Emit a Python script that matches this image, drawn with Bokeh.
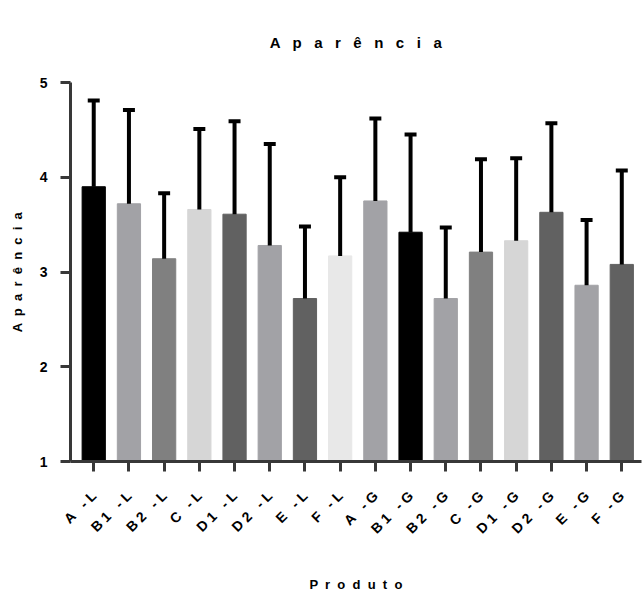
import math
from bokeh.plotting import figure
from bokeh.models import FixedTicker, Range1d, ColumnDataSource
from bokeh.embed import file_html
from bokeh.resources import INLINE

categories = ["A -L", "B1 -L", "B2 -L", "C -L", "D1 -L", "D2 -L", "E -L", "F -L",
              "A -G", "B1 -G", "B2 -G", "C -G", "D1 -G", "D2 -G", "E -G", "F -G"]
means = [3.90, 3.72, 3.14, 3.66, 3.61, 3.28, 2.72, 3.17,
         3.75, 3.42, 2.72, 3.21, 3.33, 3.63, 2.86, 3.08]
err_top = [4.81, 4.71, 3.83, 4.51, 4.59, 4.35, 3.48, 4.00,
           4.62, 4.45, 3.47, 4.19, 4.20, 4.57, 3.55, 4.07]
colors = ["#000000", "#a2a2a6", "#808080", "#d6d6d6", "#616161", "#a2a2a6", "#616161", "#e8e8e8",
          "#a2a2a6", "#000000", "#a2a2a6", "#808080", "#d6d6d6", "#616161", "#a2a2a6", "#616161"]
y_ticks = [1, 2, 3, 4, 5]
title_text = "Aparência"

FONT = "Liberation Sans"
AX = "#383838"
NB = "\u00a0"

def spaced(s, sep):
    return sep.join(list(s))

xs = list(range(len(categories)))
src = ColumnDataSource(dict(x=xs, top=means, err=err_top, color=colors,
                            x0=[x - 0.17 for x in xs], x1=[x + 0.17 for x in xs]))

p = figure(width=643, height=595, x_range=Range1d(-0.66, 15.56), y_range=Range1d(1, 5),
           output_backend="svg", toolbar_location=None,
           min_border_left=70, min_border_right=2, min_border_top=82, min_border_bottom=133)
p.outline_line_color = None
p.grid.visible = False

p.vbar(x="x", top="top", bottom=1, width=0.66, fill_color="color", line_color="color",
       line_width=1, source=src)
p.segment(x0="x", y0="top", x1="x", y1="err", line_width=4, line_color="black",
          line_cap="butt", source=src)
p.segment(x0="x0", y0="err", x1="x1", y1="err", line_width=4, line_color="black",
          line_cap="butt", source=src)

p.title.text = spaced(title_text, " " + NB + NB)
p.title.align = "center"
p.title.text_font = FONT
p.title.text_font_size = "15px"
p.title.text_font_style = "bold"
p.title.text_color = "black"
p.title.standoff = 63

for ax in (p.xaxis[0], p.yaxis[0]):
    ax.axis_line_width = 3
    ax.axis_line_color = AX
    ax.major_tick_line_width = 3
    ax.major_tick_line_color = AX
    ax.major_tick_in = 0
    ax.major_tick_out = 10
    ax.minor_tick_line_color = None
    ax.major_label_text_font = FONT
    ax.major_label_text_font_style = "bold"
    ax.major_label_text_color = "black"
    ax.axis_label_text_font = FONT
    ax.axis_label_text_font_style = "bold"
    ax.axis_label_text_color = "black"

yax = p.yaxis[0]
yax.ticker = FixedTicker(ticks=y_ticks)
yax.major_label_text_font_size = "14px"
yax.major_label_standoff = 13
yax.axis_label = spaced("Aparência", " " + NB)
yax.axis_label_text_font_size = "13px"
yax.axis_label_standoff = 12

xax = p.xaxis[0]
xax.ticker = FixedTicker(ticks=xs)
xax.major_label_overrides = {x: spaced(c, NB) for x, c in zip(xs, categories)}
xax.major_label_orientation = math.pi / 4
xax.major_label_text_font_size = "14px"
xax.major_label_standoff = 22
xax.axis_label = spaced("Produto", " " + NB)
xax.axis_label_text_font_size = "13px"
xax.axis_label_standoff = 32

open("out.html", "w").write(file_html(p, INLINE))
